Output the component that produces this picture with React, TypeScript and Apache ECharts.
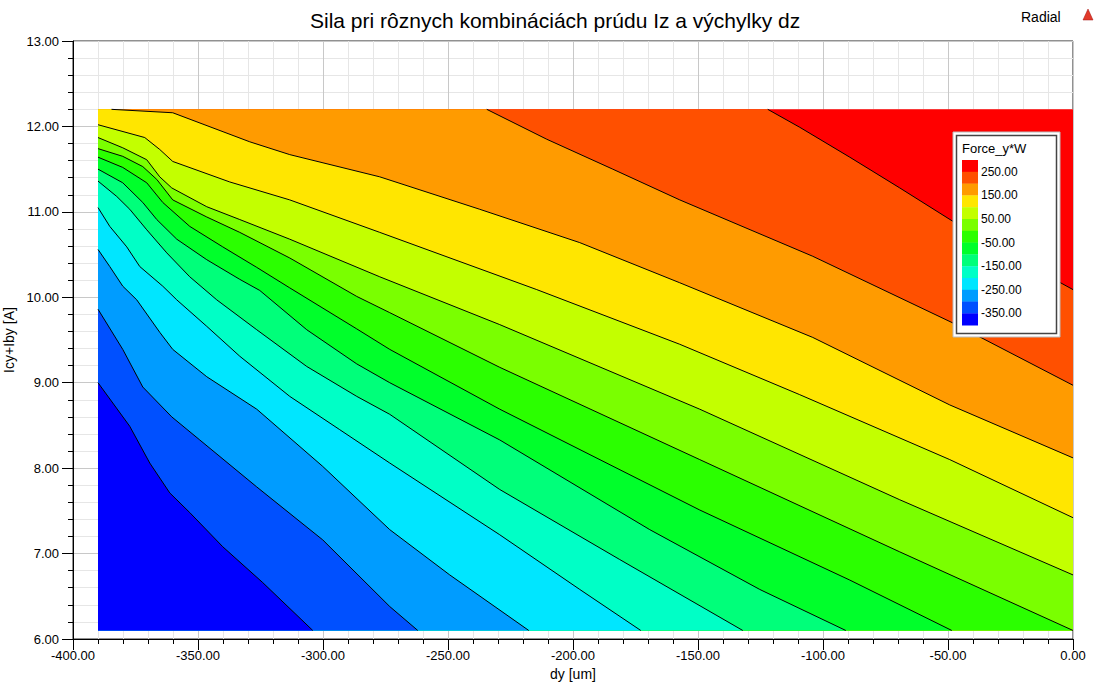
import React, { useEffect, useRef } from "react";
import * as echarts from "echarts";

// contour levels (from top-right to bottom-left)
const levels = [250, 200, 150, 100, 50, 0, -50, -100, -150, -200, -250, -300, -350];
// band colours: band 0 is above 250, band 13 is below -350
const bandColors = [
  "#FF0000", "#FF5000", "#FF9B00", "#FFE600", "#C3FF00", "#7AFF00", "#2BFF00",
  "#00FF2B", "#00FF7A", "#00FFC6", "#00E6FF", "#009CFF", "#0050FF", "#0000FF",
];
const legendLabels = ["250.00", "150.00", "50.00", "-50.00", "-150.00", "-250.00", "-350.00"];
const domainX = [-390, 0];
const domainY = [6.1, 12.2];

// contour lines [dy, I]
const c250: number[][] = [[-122.1, 12.2], [-109.3, 11.99], [-89.3, 11.64], [-69.3, 11.28], [-48.1, 10.89], [-29.3, 10.56], [0, 10.09]];
const c200: number[][] = [[-234.5, 12.2], [-210.5, 11.85], [-184.1, 11.5], [-157.3, 11.14], [-104.1, 10.48], [-48.1, 9.7], [0, 8.97]];
const c150: number[][] = [[-384.6, 12.2], [-360.1, 12.16], [-329.3, 11.82], [-313.3, 11.67], [-277.3, 11.41], [-237.3, 11.03], [-197.3, 10.64], [-157.3, 10.17], [-104.1, 9.53], [-49.3, 8.74], [0, 8.12]];
const c100: number[][] = [[-390, 12.02], [-371.3, 11.87], [-365.3, 11.73], [-360.1, 11.59], [-337.3, 11.35], [-313.3, 11.14], [-277.3, 10.76], [-214.5, 10.09], [-157.3, 9.45], [-109.3, 8.86], [-49.3, 8.1], [0, 7.42]];
const c50: number[][] = [[-390, 11.87], [-380.1, 11.75], [-370.5, 11.61], [-365.3, 11.41], [-360.5, 11.28], [-346.5, 11.06], [-333.3, 10.91], [-313.3, 10.68], [-277.3, 10.24], [-229.3, 9.68], [-149.3, 8.69], [-69.3, 7.63], [0, 6.75]];
const c0: number[][] = [[-390, 11.74], [-380.1, 11.65], [-372.1, 11.53], [-366.5, 11.38], [-360.1, 11.14], [-346.5, 10.94], [-333.3, 10.76], [-313.3, 10.46], [-286.5, 10.01], [-273.3, 9.82], [-229.3, 9.18], [-149.3, 8.1], [-69.3, 7.02], [0, 6.1]];
const cm50: number[][] = [[-390, 11.64], [-380.1, 11.52], [-370.5, 11.34], [-364.1, 11.11], [-353.3, 10.83], [-340.1, 10.59], [-326.5, 10.35], [-313.3, 10.11], [-286.5, 9.63], [-273.3, 9.39], [-229.3, 8.69], [-149.3, 7.51], [-89.3, 6.69], [-48.5, 6.1]];
const cm100: number[][] = [[-390, 11.5], [-380.1, 11.34], [-372.1, 11.11], [-366.5, 10.91], [-358.5, 10.68], [-346.5, 10.44], [-333.3, 10.21], [-325.3, 10.08], [-306.5, 9.62], [-286.5, 9.22], [-273.3, 9.0], [-229.3, 8.33], [-169.3, 7.28], [-125.3, 6.58], [-90.9, 6.1]];
const cm150: number[][] = [[-390, 11.36], [-382.5, 11.18], [-377.3, 11.03], [-370.5, 10.79], [-362.5, 10.52], [-353.3, 10.24], [-342.5, 9.97], [-326.5, 9.62], [-306.5, 9.19], [-286.5, 8.84], [-273.3, 8.63], [-229.3, 7.75], [-181.3, 6.93], [-132.1, 6.1]];
const cm200: number[][] = [[-390, 11.05], [-385.3, 10.83], [-378.5, 10.59], [-373.3, 10.36], [-364.1, 10.13], [-358.5, 9.97], [-346.5, 9.66], [-333.3, 9.31], [-313.3, 8.84], [-293.3, 8.45], [-273.3, 8.06], [-229.3, 7.22], [-197.3, 6.58], [-172.9, 6.1]];
const cm250: number[][] = [[-390, 10.56], [-385.3, 10.36], [-380.1, 10.13], [-374.5, 9.97], [-365.3, 9.59], [-360.1, 9.39], [-346.5, 9.07], [-326.5, 8.69], [-300.1, 8.02], [-273.3, 7.28], [-249.3, 6.75], [-217.7, 6.1]];
const cm300: number[][] = [[-390, 9.86], [-380.1, 9.39], [-372.1, 8.95], [-360.5, 8.6], [-349.3, 8.33], [-326.5, 7.78], [-300.1, 7.16], [-273.3, 6.38], [-262.1, 6.1]];
const cm350: number[][] = [[-390, 9.0], [-377.3, 8.49], [-369.3, 8.06], [-361.3, 7.71], [-353.3, 7.48], [-340.1, 7.08], [-324.1, 6.66], [-304.1, 6.1]];

const contours = [c250, c200, c150, c100, c50, c0, cm50, cm100, cm150, cm200, cm250, cm300, cm350];

const FONT = "'Liberation Sans', Arial, sans-serif";

function regionBelow(pts: number[][]): number[][] {
  const [x0, x1] = domainX;
  const [y0, y1] = domainY;
  const poly = pts.map((p) => p.slice());
  const end = pts[pts.length - 1];
  const start = pts[0];
  if (end[0] >= x1 && end[1] > y0) poly.push([x1, y0]);
  poly.push([x0, y0]);
  if (start[1] >= y1 && start[0] > x0) poly.push([x0, y1]);
  return poly;
}

export default function App() {
  const ref = useRef<HTMLDivElement>(null);
  useEffect(() => {
    if (!ref.current) return;
    const chart = echarts.init(ref.current, null, { renderer: "svg" });
    const [x0, x1] = domainX;
    const [y0, y1] = domainY;
    const domainPoly = [[x0, y0], [x1, y0], [x1, y1], [x0, y1]];

    const legendX = 953;
    const legendY = 132;
    const swH = 11.8;
    const swTop = 160;
    const Z = 100;
    const legendChildren: any[] = [
      { type: "rect", z: Z, shape: { x: legendX, y: legendY, width: 107, height: 205 }, style: { fill: "#fff", stroke: "#bbb", lineWidth: 1 } },
      { type: "rect", z: Z + 1, shape: { x: legendX + 3.5, y: legendY + 3.5, width: 100, height: 198 }, style: { fill: "#fff", stroke: "#444", lineWidth: 1.5 } },
      { type: "text", z: Z + 2, style: { x: legendX + 9, y: legendY + 16, text: "Force_y*W", fill: "#000", font: `13px ${FONT}`, verticalAlign: "middle" } },
    ];
    bandColors.forEach((c, i) => {
      legendChildren.push({ type: "rect", z: Z + 2, shape: { x: legendX + 9, y: swTop + i * swH, width: 16, height: swH + 0.3 }, style: { fill: c } });
    });
    legendLabels.forEach((t, i) => {
      legendChildren.push({ type: "text", z: Z + 2, style: { x: legendX + 28, y: swTop + (2 * i + 1) * swH, text: t, fill: "#000", font: `12px ${FONT}`, verticalAlign: "middle" } });
    });

    chart.setOption({
      animation: false,
      backgroundColor: "#fff",
      title: {
        text: "Sila pri rôznych kombináciách prúdu Iz a výchylky dz",
        left: 305,
        top: 5,
        textStyle: { fontFamily: FONT, fontSize: 21, fontWeight: "normal", color: "#000" },
      },
      grid: { left: 73, right: 22, top: 41, bottom: 45, outerBoundsMode: "none", containLabel: false, show: true, borderColor: "#222", borderWidth: 1, backgroundColor: "transparent" },
      xAxis: {
        type: "value", min: -400, max: 0, interval: 50,
        name: "dy [um]", nameLocation: "middle", nameGap: 26,
        nameTextStyle: { fontFamily: FONT, fontSize: 14, color: "#000" },
        axisLine: { show: true, onZero: false, lineStyle: { color: "#000" } },
        axisTick: { show: true, length: 11, lineStyle: { color: "#000" } },
        minorTick: { show: true, splitNumber: 5, length: 5, lineStyle: { color: "#000" } },
        splitLine: { show: true, lineStyle: { color: "#c8c8c8" } },
        minorSplitLine: { show: true, lineStyle: { color: "#e6e6e6" } },
        axisLabel: { formatter: (v: number) => v.toFixed(2), color: "#000", fontSize: 13, fontFamily: FONT, margin: 10 },
      },
      yAxis: {
        type: "value", min: 6, max: 13, interval: 1,
        name: "Icy+Iby [A]", nameLocation: "middle", nameGap: 49,
        nameTextStyle: { fontFamily: FONT, fontSize: 14, color: "#000" },
        axisLine: { show: true, onZero: false, lineStyle: { color: "#000" } },
        axisTick: { show: true, length: 11, lineStyle: { color: "#000" } },
        minorTick: { show: true, splitNumber: 5, length: 5, lineStyle: { color: "#000" } },
        splitLine: { show: true, lineStyle: { color: "#c8c8c8" } },
        minorSplitLine: { show: true, lineStyle: { color: "#e6e6e6" } },
        axisLabel: { formatter: (v: number) => v.toFixed(2), color: "#000", fontSize: 13, fontFamily: FONT, margin: 14 },
      },
      graphic: [
        { type: "text", z: Z, style: { x: 1021, y: 17, text: "Radial", fill: "#000", font: `14px ${FONT}`, verticalAlign: "middle" } },
        { type: "polygon", z: Z, shape: { points: [[1083, 20], [1088, 9], [1093, 20]] }, style: { fill: "#e23a2a", stroke: "#a01010", lineWidth: 0.5 } },
        { type: "group", z: Z, children: legendChildren },
      ],
      series: [
        {
          type: "custom",
          coordinateSystem: "cartesian2d",
          silent: true,
          clip: true,
          data: bandColors.map((_, i) => [x0, y0, i]),
          renderItem: (params: any, api: any) => {
            const i = params.dataIndex;
            const poly = i === 0 ? domainPoly : regionBelow(contours[i - 1]);
            return {
              type: "polygon",
              shape: { points: poly.map((p) => api.coord(p)) },
              style: { fill: bandColors[i] },
            };
          },
          z: 2,
        },
        {
          type: "custom",
          coordinateSystem: "cartesian2d",
          silent: true,
          clip: true,
          data: levels.map((lv) => [x0, y0, lv]),
          renderItem: (params: any, api: any) => {
            const pts = contours[params.dataIndex];
            return {
              type: "polyline",
              shape: { points: pts.map((p) => api.coord(p)) },
              style: { stroke: "#000", lineWidth: 1, fill: null },
            };
          },
          z: 3,
        },
      ],
    });
    return () => chart.dispose();
  }, []);
  return <div ref={ref} style={{ position: "fixed", left: 0, top: 0, width: 1095, height: 684, background: "#fff" }} />;
}
